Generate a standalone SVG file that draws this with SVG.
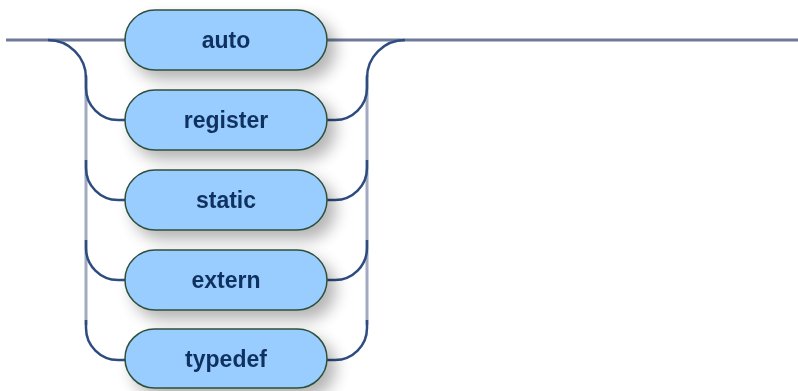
<svg xmlns="http://www.w3.org/2000/svg" width="798" height="391" viewBox="0 0 798 391">
<defs>
<filter id="sh" x="-20%" y="-50%" width="160%" height="220%">
<feGaussianBlur in="SourceAlpha" stdDeviation="8"/>
<feOffset dx="8" dy="9" result="b"/>
<feComponentTransfer><feFuncA type="linear" slope="0.3"/></feComponentTransfer>
<feMerge><feMergeNode/><feMergeNode in="SourceGraphic"/></feMerge>
</filter>
</defs>
<style>
.node rect{fill:#99ccff;stroke:#2f4f3a;stroke-width:1.5}
.node text{font-family:"Liberation Sans",Arial,sans-serif;font-weight:bold;font-size:23px;fill:#11305f;text-anchor:middle}
.line{fill:none;stroke:#6f7a98;stroke-width:3}
.vert{fill:none;stroke:#a2aac0;stroke-width:3}
.curve{fill:none;stroke:#2e4c80;stroke-width:2.5}
</style>
<rect width="798" height="391" fill="#ffffff"/>
<g id="connectors">
<path class="line" d="M6 40 H126 M327 40 H798"/>
<path class="vert" d="M86 75 V325 M367 75 V325"/>
<path class="curve" d="M48 40 a38 38 0 0 1 38 38 v2"/>
<path class="curve" d="M367 80 v-2 a38 38 0 0 1 38 -38"/>
<path class="curve" d="M86 80 v8 a32 32 0 0 0 32 32 h8 M86 160 v8 a32 32 0 0 0 32 32 h8 M86 240 v8 a32 32 0 0 0 32 32 h8 M86 320 v8 a32 32 0 0 0 32 32 h8"/>
<path class="curve" d="M327 120 h8 a32 32 0 0 0 32 -32 v-8 M327 200 h8 a32 32 0 0 0 32 -32 v-8 M327 280 h8 a32 32 0 0 0 32 -32 v-8 M327 360 h8 a32 32 0 0 0 32 -32 v-8"/>
</g>
<g id="auto" class="node" filter="url(#sh)"><rect x="125" y="10" width="202" height="60" rx="30"/><text x="226" y="48">auto</text></g>
<g id="register" class="node" filter="url(#sh)"><rect x="125" y="90" width="202" height="60" rx="30"/><text x="226" y="128">register</text></g>
<g id="static" class="node" filter="url(#sh)"><rect x="125" y="170" width="202" height="60" rx="30"/><text x="226" y="208">static</text></g>
<g id="extern" class="node" filter="url(#sh)"><rect x="125" y="250" width="202" height="60" rx="30"/><text x="226" y="288">extern</text></g>
<g id="typedef" class="node" filter="url(#sh)"><rect x="125" y="329" width="202" height="59" rx="29.5"/><text x="226" y="367">typedef</text></g>
</svg>
